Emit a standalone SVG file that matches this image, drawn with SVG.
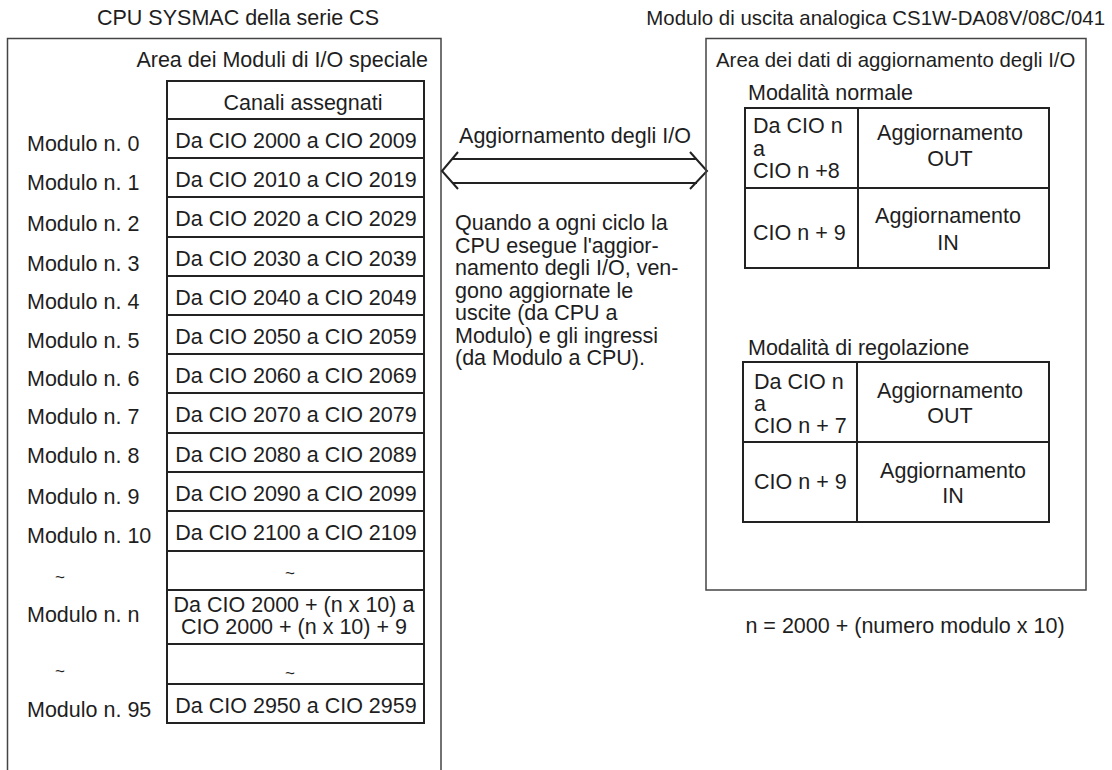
<svg xmlns="http://www.w3.org/2000/svg" width="1112" height="770" viewBox="0 0 1112 770">
<style>
text{font-family:"Liberation Sans",Arial,Helvetica,sans-serif;font-size:21.5px;fill:#1e1e1e}
.m{text-anchor:middle}
.e{text-anchor:end}
.s{font-size:20.4px}
.t{font-size:17px}
.box{fill:none;stroke:#444;stroke-width:1.5}
.tbl{fill:none;stroke:#222;stroke-width:2}
.arr{fill:none;stroke:#222;stroke-width:2;stroke-linejoin:miter}
</style>
<rect width="1112" height="770" fill="#fff"/>

<g id="cpu">
<text x="238" y="25" class="m">CPU SYSMAC della serie CS</text>
<path class="box" d="M7.5,770 V38.5 H441 V770"/>
<text x="428" y="67" class="e">Area dei Moduli di I/O speciale</text>
</g>

<g id="cpu-table">
<rect class="tbl" x="167" y="81" width="257" height="642"/>
<path class="tbl" d="M167,119H424M167,158H424M167,197H424M167,237H424M167,276H424M167,315H424M167,354H424M167,393H424M167,433H424M167,472H424M167,511H424M167,551H424M167,590H424M167,644H424M167,684H424"/>
<text x="303" y="110" class="m">Canali assegnati</text>
<text x="296" y="148" class="m">Da CIO 2000 a CIO 2009</text>
<text x="296" y="187" class="m">Da CIO 2010 a CIO 2019</text>
<text x="296" y="226" class="m">Da CIO 2020 a CIO 2029</text>
<text x="296" y="266" class="m">Da CIO 2030 a CIO 2039</text>
<text x="296" y="305" class="m">Da CIO 2040 a CIO 2049</text>
<text x="296" y="344" class="m">Da CIO 2050 a CIO 2059</text>
<text x="296" y="383" class="m">Da CIO 2060 a CIO 2069</text>
<text x="296" y="422" class="m">Da CIO 2070 a CIO 2079</text>
<text x="296" y="462" class="m">Da CIO 2080 a CIO 2089</text>
<text x="296" y="501" class="m">Da CIO 2090 a CIO 2099</text>
<text x="296" y="540" class="m">Da CIO 2100 a CIO 2109</text>
<text x="290" y="579" class="m t">~</text>
<text x="294" y="612" class="m">Da CIO 2000 + (n x 10) a</text>
<text x="294" y="634" class="m">CIO 2000 + (n x 10) + 9</text>
<text x="290" y="679" class="m t">~</text>
<text x="296" y="713" class="m">Da CIO 2950 a CIO 2959</text>
</g>

<g id="module-labels">
<text x="27" y="151">Modulo n. 0</text>
<text x="27" y="190">Modulo n. 1</text>
<text x="27" y="231">Modulo n. 2</text>
<text x="27" y="271">Modulo n. 3</text>
<text x="27" y="309">Modulo n. 4</text>
<text x="27" y="348">Modulo n. 5</text>
<text x="27" y="386">Modulo n. 6</text>
<text x="27" y="424">Modulo n. 7</text>
<text x="27" y="463">Modulo n. 8</text>
<text x="27" y="504">Modulo n. 9</text>
<text x="27" y="543">Modulo n. 10</text>
<text x="60" y="583" class="m t">~</text>
<text x="27" y="622">Modulo n. n</text>
<text x="60" y="677" class="m t">~</text>
<text x="27" y="717">Modulo n. 95</text>
</g>

<g id="connectors">
<path class="arr" d="M452,159H697M452,183H697"/>
<path class="arr" d="M458,152L442,171L458,189"/>
<path class="arr" d="M690,152L707,171L690,189"/>
</g>

<g id="io-refresh-label">
<text x="575" y="143" class="m">Aggiornamento degli I/O</text>
<text x="455" y="230">Quando a ogni ciclo la</text>
<text x="455" y="252.5">CPU esegue l'aggior-</text>
<text x="455" y="275">namento degli I/O, ven-</text>
<text x="455" y="297.5">gono aggiornate le</text>
<text x="455" y="320">uscite (da CPU a</text>
<text x="455" y="342.5">Modulo) e gli ingressi</text>
<text x="455" y="365">(da Modulo a CPU).</text>
</g>

<g id="unit">
<text x="1105" y="25" class="e s">Modulo di uscita analogica CS1W-DA08V/08C/041</text>
<rect class="box" x="706" y="38.5" width="380" height="551.5"/>
<text x="716" y="67" class="s">Area dei dati di aggiornamento degli I/O</text>
</g>

<g id="normal-mode">
<text x="748" y="100">Modalità normale</text>
<rect class="tbl" x="745" y="108" width="304" height="160"/>
<path class="tbl" d="M745,188H1049M858,108V268"/>
<text x="753" y="133">Da CIO n</text>
<text x="753" y="155.5">a</text>
<text x="753" y="178">CIO n +8</text>
<text x="950" y="140" class="m">Aggiornamento</text>
<text x="950" y="165.5" class="m">OUT</text>
<text x="753" y="240">CIO n + 9</text>
<text x="948" y="223" class="m">Aggiornamento</text>
<text x="948" y="250" class="m">IN</text>
</g>

<g id="adjust-mode">
<text x="748" y="355">Modalità di regolazione</text>
<rect class="tbl" x="743" y="362" width="306" height="160"/>
<path class="tbl" d="M743,442H1049M857,362V522"/>
<text x="754" y="389">Da CIO n</text>
<text x="754" y="411">a</text>
<text x="754" y="433">CIO n + 7</text>
<text x="950" y="397.5" class="m">Aggiornamento</text>
<text x="950" y="423" class="m">OUT</text>
<text x="754" y="489">CIO n + 9</text>
<text x="953" y="477.5" class="m">Aggiornamento</text>
<text x="953" y="503" class="m">IN</text>
</g>

<g id="formula">
<text x="905" y="633" class="m">n = 2000 + (numero modulo x 10)</text>
</g>
</svg>
